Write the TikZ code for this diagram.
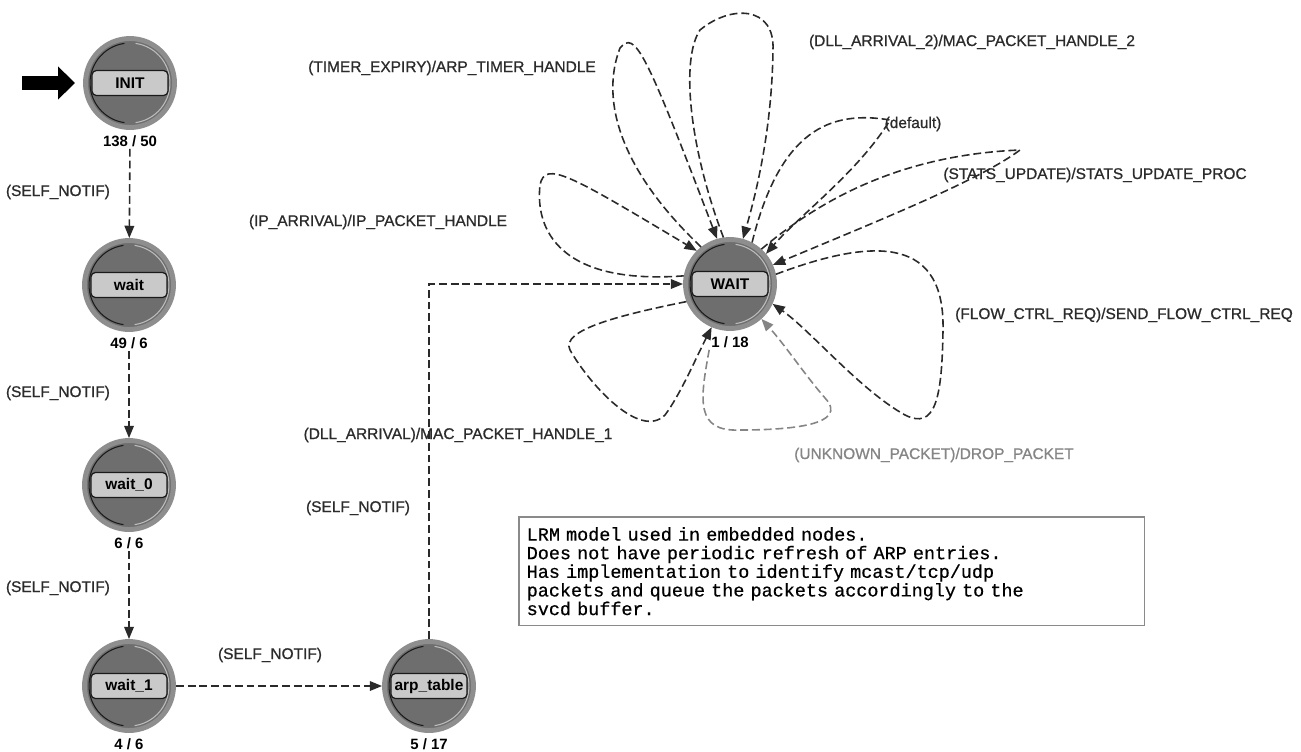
\documentclass[tikz,border=0pt]{standalone}
\usepackage{fontspec}
\setmainfont{Liberation Sans}
\newfontfamily\memofont[FakeBold=0.6]{Liberation Mono}
\newfontfamily\lblfont[FakeBold=0.9]{Liberation Sans}
\usepackage{tikz}
\usetikzlibrary{arrows.meta,positioning,calc}
\definecolor{stfill}{HTML}{6E6E6E}
\definecolor{strim}{HTML}{8E8E8E}
\definecolor{stdark}{HTML}{1A1A1A}
\definecolor{stlight}{HTML}{BDBDBD}
\definecolor{tagfill}{HTML}{C9C9C9}
\definecolor{trline}{HTML}{2A2A2A}
\definecolor{trgrey}{HTML}{858585}
\definecolor{lbltext}{HTML}{2B2B2B}
\definecolor{memoframe}{HTML}{8A8A8A}
\tikzset{
  stcirc/.style  = {circle, draw=strim, line width=2.8pt, fill=stfill,
                    minimum size=1.78cm, inner sep=0pt},
  sttag/.style   = {draw=stdark, line width=0.7pt, rounded corners=2.5pt,
                    fill=tagfill, minimum width=1.52cm, minimum height=0.5cm,
                    inner sep=0pt, font=\fontsize{8.8}{10}\selectfont\bfseries},
  stcnt/.style   = {inner sep=1pt, font=\fontsize{8.5}{10}\selectfont\bfseries},
  tr/.style      = {draw=trline, line width=0.9pt,
                    dash pattern=on 4.5pt off 2.2pt,
                    -{Triangle[length=7pt,width=5.5pt]}},
  trg/.style     = {tr, draw=trgrey},
  lbl/.style     = {text=lbltext, inner sep=1pt,
                    font=\lblfont\fontsize{8.8}{10}\selectfont},
  lblg/.style    = {lbl, text=trgrey},
  memo/.style    = {draw=memoframe, line width=0.85pt, text width=12.2cm,
                    minimum height=2.18cm, inner xsep=0.16cm, align=left,
                    font=\memofont\fontsize{10.5}{10.6}\selectfont},
  initarr/.style = {line width=0.28cm, shorten >=0.16cm,
                    -{Triangle[length=0.34cm,width=0.64cm]}},
}
\newcommand{\fsmstate}[5]{%          % #1 = name, #2 = x, #3 = y, #4 = tag, #5 = count
  \node[stcirc] (#1) at (#2,#3) {};
  \draw[stdark, line width=0.6pt] ($(#1.center)+(98:0.8cm)$)
    arc[start angle=98, end angle=262, radius=0.8cm];
  \draw[stlight, line width=0.6pt] ($(#1.center)+(82:0.8cm)$)
    arc[start angle=82, end angle=-82, radius=0.8cm];
  \node[sttag] (#1-tag) at (#1.center) {#4};
  \node[stcnt, below=0.07cm of #1] (#1-cnt) {#5};}

\begin{document}
\begin{tikzpicture}[x=0.02cm, y=-0.02cm]
  \useasboundingbox (0,0) rectangle (1301,751);

  % states
  \fsmstate{init}{130}{83}{INIT}{138 / 50}
  \fsmstate{wait}{129}{285}{wait}{49 / 6}
  \fsmstate{wait0}{129}{485}{wait\_0}{6 / 6}
  \fsmstate{wait1}{129}{686}{wait\_1}{4 / 6}
  \fsmstate{arptab}{429}{686}{arp\_table}{5 / 17}
  \fsmstate{waitst}{730}{284}{WAIT}{1 / 18}

  % initial arrow
  \coordinate (init-in) at (22,83);
  \draw[initarr] (init-in) -- (init);

  % chain of forced transitions
  \draw[tr] (init-cnt) -- (wait);
  \draw[tr] (wait-cnt) -- (wait0);
  \draw[tr] (wait0-cnt) -- (wait1);
  \draw[tr] (wait1) -- (arptab);
  \draw[tr] (arptab) |- (waitst);

  \node[lbl, anchor=east] (self-a) at (112,192) {(SELF\_NOTIF)};
  \node[lbl, anchor=east] (self-b) at (112,393) {(SELF\_NOTIF)};
  \node[lbl, anchor=east] (self-c) at (112,588) {(SELF\_NOTIF)};
  \node[lbl] (self-d) at (270,655) {(SELF\_NOTIF)};
  \node[lbl] (self-e) at (358,508) {(SELF\_NOTIF)};

  % self loops on WAIT
  \draw[tr] (waitst.170) .. controls (560,285) and (535,230) .. (540,185)
    .. controls (545,160) and (570,175) .. (waitst.135);
  \draw[tr] (waitst.128) .. controls (620,170) and (600,100) .. (620,48)
    .. controls (635,30) and (645,50) .. (waitst.106);
  \draw[tr] (waitst.98) .. controls (690,150) and (680,60) .. (700,30)
    .. controls (730,5) and (775,5) .. (773,50)
    .. controls (772,120) and (760,180) .. (waitst.74);
  \draw[tr] (waitst.62) .. controls (780,130) and (830,110) .. (890,120)
    .. controls (860,170) and (800,215) .. (waitst.40);
  \draw[tr] (waitst.48) .. controls (820,200) and (900,155) .. (1020,150)
    .. controls (980,180) and (880,220) .. (waitst.24);
  \draw[tr] (waitst.12) .. controls (880,235) and (945,240) .. (943,330)
    .. controls (942,400) and (935,430) .. (905,415)
    .. controls (860,390) and (810,330) .. (waitst.-25);
  \draw[trg] (waitst-cnt.south west) .. controls (700,400) and (695,432) .. (740,430)
    .. controls (790,430) and (850,425) .. (825,398)
    .. controls (805,375) and (785,345) .. (waitst.-48);
  \draw[tr] (waitst.202) .. controls (620,315) and (560,330) .. (570,350)
    .. controls (590,385) and (640,440) .. (665,415)
    .. controls (680,395) and (695,360) .. (waitst.247);

  \node[lbl] (lab-ip) at (378,222) {(IP\_ARRIVAL)/IP\_PACKET\_HANDLE};
  \node[lbl] (lab-timer) at (452,68) {(TIMER\_EXPIRY)/ARP\_TIMER\_HANDLE};
  \node[lbl] (lab-dll2) at (972,42) {(DLL\_ARRIVAL\_2)/MAC\_PACKET\_HANDLE\_2};
  \node[lbl] (lab-def) at (913,124) {(default)};
  \node[lbl] (lab-stats) at (1095,175) {(STATS\_UPDATE)/STATS\_UPDATE\_PROC};
  \node[lbl] (lab-flow) at (1124,315) {(FLOW\_CTRL\_REQ)/SEND\_FLOW\_CTRL\_REQ};
  \node[lblg] (lab-unk) at (934,455) {(UNKNOWN\_PACKET)/DROP\_PACKET};
  \node[lbl] (lab-dll1) at (458,435) {(DLL\_ARRIVAL)/MAC\_PACKET\_HANDLE\_1};

  % comment box
  \node[memo, anchor=north west] (note) at (518,516)
    {LRM model used in embedded nodes.\\
     Does not have periodic refresh of ARP entries.\\
     Has implementation to identify mcast/tcp/udp\\
     packets and queue the packets accordingly to the\\
     svcd buffer.};
\end{tikzpicture}
\end{document}
